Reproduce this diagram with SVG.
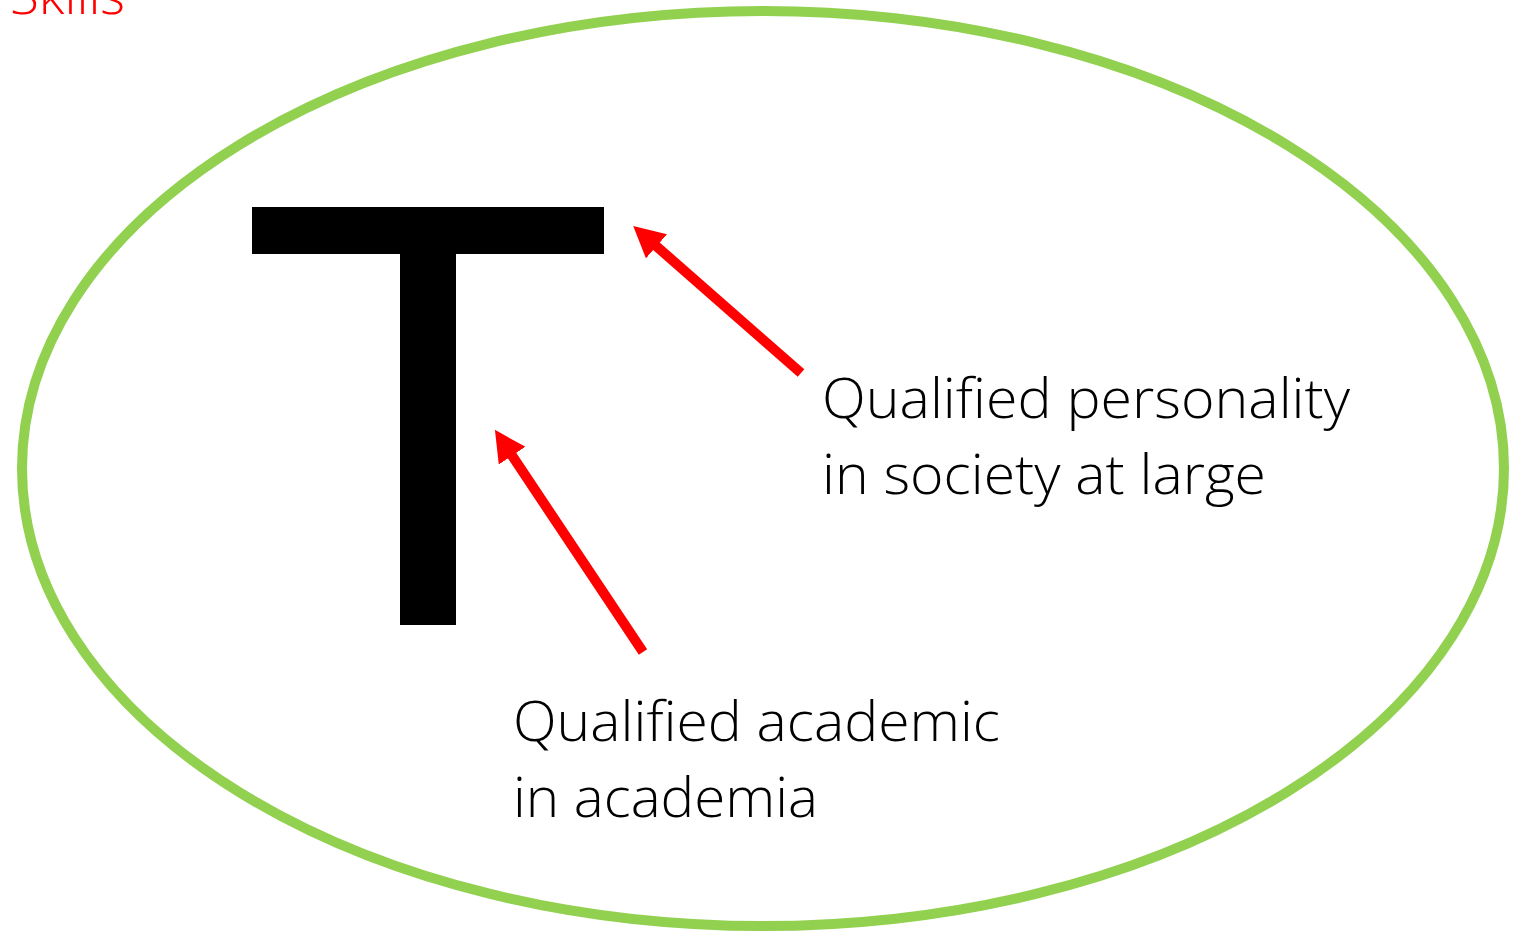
<svg xmlns="http://www.w3.org/2000/svg" width="1527" height="932" viewBox="0 0 1527 932">
  <style>
    .lbl { font-family: "Open Sans", "Liberation Sans", sans-serif; font-weight: 300; font-size: 56px; fill: #000000; }
    .skills { font-family: "Open Sans", "Liberation Sans", sans-serif; font-weight: 300; font-size: 52px; fill: #FF0000; }
    .arrow { stroke: #FF0000; stroke-width: 10; fill: none; }
  </style>
  <defs>
    <marker id="head" viewBox="0 0 31 32" markerWidth="31" markerHeight="32" refX="2" refY="16" orient="auto" markerUnits="userSpaceOnUse">
      <path d="M0,0 L31,16 L0,32 z" fill="#FF0000"/>
    </marker>
  </defs>
  <rect width="1527" height="932" fill="#FFFFFF"/>
  <text class="skills" x="10" y="14" textLength="115" lengthAdjust="spacingAndGlyphs">Skills</text>
  <g id="frame">
    <ellipse cx="763" cy="468.5" rx="741" ry="457.5" fill="none" stroke="#92D050" stroke-width="10"/>
  </g>
  <g id="T">
    <rect x="252" y="207" width="352" height="47" fill="#000000"/>
    <rect x="400" y="253" width="56" height="372" fill="#000000"/>
  </g>
  <g id="label-society">
    <text class="lbl" x="822" y="418" textLength="528" lengthAdjust="spacingAndGlyphs">Qualified personality</text>
    <text class="lbl" x="822" y="494" textLength="444" lengthAdjust="spacingAndGlyphs">in society at large</text>
  </g>
  <g id="label-academia">
    <text class="lbl" x="513" y="741" textLength="487" lengthAdjust="spacingAndGlyphs">Qualified academic</text>
    <text class="lbl" x="513" y="817" textLength="305" lengthAdjust="spacingAndGlyphs">in academia</text>
  </g>
  <g id="connectors">
    <line class="arrow" x1="643" y1="652" x2="511" y2="454" marker-end="url(#head)"/>
    <line class="arrow" x1="801" y1="373" x2="655" y2="245" marker-end="url(#head)"/>
  </g>
</svg>
